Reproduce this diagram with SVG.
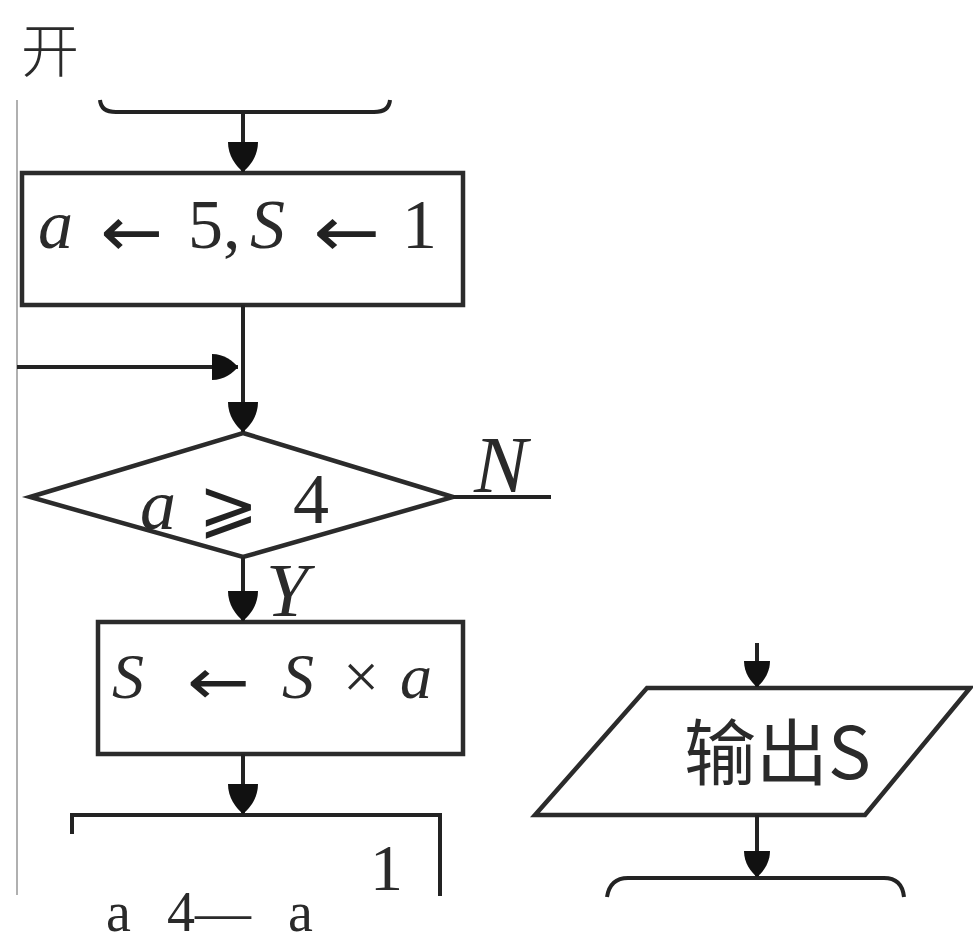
<svg xmlns="http://www.w3.org/2000/svg" width="973" height="944" viewBox="0 0 973 944">
<style>
.ln{fill:none;stroke:#232323;stroke-width:4;stroke-linecap:butt;stroke-linejoin:miter}
.shape{fill:#fff;stroke:#2b2b2b;stroke-width:4.5}
.m{font-family:"Liberation Serif","Times New Roman",serif;fill:#2a2a2a}
.i{font-style:italic}
.ar{font-family:"DejaVu Sans",sans-serif;fill:#222}
.cjk{font-family:"Noto Sans CJK SC","Noto Sans",sans-serif;fill:#2a2a2a}
</style>
<defs>
<marker id="ah" markerUnits="userSpaceOnUse" markerWidth="30" markerHeight="30" refX="30" refY="15" orient="auto" viewBox="0 0 30 30">
<path d="M0,0 C14,0 24,8 30,15 C24,22 14,30 0,30 Z" fill="#111"/>
</marker>
<marker id="ahs" markerUnits="userSpaceOnUse" markerWidth="26" markerHeight="26" refX="26" refY="13" orient="auto" viewBox="0 0 26 26">
<path d="M0,0 C12,0 21,7 26,13 C21,19 12,26 0,26 Z" fill="#111"/>
</marker>
</defs>
<rect width="973" height="944" fill="#fff"/>
<text class="cjk" x="21" y="72" font-size="58" font-weight="300" fill="#333">开</text>
<line x1="17" y1="100" x2="17" y2="895" stroke="#b0b0b0" stroke-width="2"/>
<g id="start">
<path class="ln" d="M100,100 Q101,112 116,112 L374,112 Q389,112 390,100"/>
</g>
<g id="init">
<rect class="shape" x="22" y="173" width="441" height="132"/>
<text class="m i" x="38" y="248" font-size="70">a</text>
<text class="ar" x="100" y="256" font-size="70" textLength="63" lengthAdjust="spacingAndGlyphs">←</text>
<text class="m" x="188" y="248" font-size="70">5,</text>
<text class="m i" x="250" y="248" font-size="70">S</text>
<text class="ar" x="313" y="256" font-size="70" textLength="67" lengthAdjust="spacingAndGlyphs">←</text>
<text class="m" x="402" y="248" font-size="70">1</text>
</g>
<g id="cond">
<polygon class="shape" points="243,433 453,497 243,557 30,497"/>
<text class="m i" x="140" y="529" font-size="72">a</text>
<text class="ar" x="198" y="530" font-size="72">⩾</text>
<text class="m" x="293" y="523" font-size="72">4</text>
</g>
<g id="mult">
<rect class="shape" x="98" y="622" width="365" height="132"/>
<text class="m i" x="112" y="698" font-size="64">S</text>
<text class="ar" x="187" y="704" font-size="64" textLength="63" lengthAdjust="spacingAndGlyphs">←</text>
<text class="m i" x="282" y="698" font-size="64">S</text>
<text class="m" x="343" y="698" font-size="64" fill="#555">×</text>
<text class="m i" x="400" y="698" font-size="64">a</text>
</g>
<g id="update">
<path class="ln" d="M72,834 L72,815 L440,815 L440,896" stroke-width="4.5"/>
<text class="m" x="370" y="890" font-size="66">1</text>
</g>
<g id="output">
<polygon class="shape" points="647,688 970,688 865,815 535,815"/>
<text class="cjk" x="684" y="779" font-size="72">输出S</text>
</g>
<g id="end">
<path class="ln" d="M607,897 Q610,878 628,878 L884,878 Q902,878 904,897"/>
</g>
<g id="connectors">
<line class="ln" x1="243" y1="112" x2="243" y2="172" marker-end="url(#ah)"/>
<line class="ln" x1="243" y1="305" x2="243" y2="432" marker-end="url(#ah)"/>
<line class="ln" x1="17" y1="367" x2="238" y2="367" marker-end="url(#ahs)"/>
<line class="ln" x1="243" y1="557" x2="243" y2="621" marker-end="url(#ah)"/>
<line class="ln" x1="243" y1="754" x2="243" y2="814" marker-end="url(#ah)"/>
<line class="ln" x1="453" y1="497" x2="551" y2="497"/>
<line class="ln" x1="757" y1="643" x2="757" y2="687" marker-end="url(#ahs)"/>
<line class="ln" x1="757" y1="815" x2="757" y2="877" marker-end="url(#ahs)"/>
<text class="m i" x="474" y="492" font-size="80">N</text>
<text class="m i" x="266" y="616" font-size="76">Y</text>
</g>
<text class="m" y="931" font-size="56" fill="#555"><tspan x="106">a</tspan><tspan x="167">4</tspan><tspan x="195">—</tspan><tspan x="288">a</tspan></text>
</svg>
